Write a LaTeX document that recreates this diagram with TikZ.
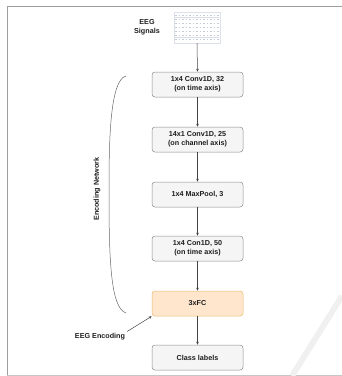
\documentclass[tikz,border=0pt]{standalone}
\usepackage{fontspec}
\setmainfont{Liberation Sans}
\usetikzlibrary{arrows.meta}
\definecolor{boxfill}{HTML}{F5F5F5}
\definecolor{boxline}{HTML}{8C8C8C}
\definecolor{fcfill}{HTML}{FFE6CC}
\definecolor{fcline}{HTML}{E8BC6E}
\definecolor{txt}{HTML}{1E1E1E}
\definecolor{conn}{HTML}{444444}
\definecolor{sig}{HTML}{C4CCDA}
\begin{document}
\begin{tikzpicture}[x=1pt,y=-1pt,
  layer/.style={draw=boxline, fill=boxfill, rounded corners=3pt, minimum width=91pt,
    minimum height=25pt, align=center, inner sep=1pt, line width=0.5pt,
    text=txt, font=\fontsize{7.2}{8.6}\selectfont\bfseries},
  fclayer/.style={layer, draw=fcline, fill=fcfill},
  lbl/.style={align=center, text=txt, font=\fontsize{7.2}{8.6}\selectfont\bfseries, inner sep=2pt},
  arr/.style={draw=conn, line width=0.5pt, -{Stealth[length=3pt,width=2.6pt]}},
  frame/.style={line width=0.8pt}]
\useasboundingbox (0,0) rectangle (342,376);
% page frame and watermark
\draw[frame, draw=gray!75] (7,375) -- (7,6) -- (342,6);
\draw[frame, draw=gray!45] (7,375) -- (342,375);
\draw[line width=6pt, draw=gray!12] (292,376) -- (342,296);
% EEG signal picture
\node[draw=sig!60, line width=0.3pt, minimum width=46pt, minimum height=31pt, inner sep=0pt] (eeg) at (197,27.5) {};
\foreach \yy in {15,19,23,27,31,35,39}{
  \draw[sig, line width=0.3pt, dash pattern=on 1.5pt off 2pt] (175,\yy) -- (219,\yy);
}
\draw[sig!70, line width=0.3pt] (175,17) -- (219,17) (175,37) -- (219,37);
\node[lbl] (siglbl) at (147,27.5) {EEG\\Signals};
% layers
\node[layer] (b1) at (197.5,84.5) {1x4 Conv1D, 32\\(on time axis)};
\node[layer] (b2) at (197.5,139.5) {14x1 Conv1D, 25\\(on channel axis)};
\node[layer] (b3) at (197.5,194.5) {1x4 MaxPool, 3};
\node[layer] (b4) at (197.5,248.5) {1x4 Con1D, 50\\(on time axis)};
\node[fclayer] (b5) at (197.5,303.5) {3xFC};
\node[layer] (b6) at (197.5,357.5) {Class labels};
\draw[arr] (eeg.south) -- (b1.north);
\draw[arr] (b1) -- (b2);
\draw[arr] (b2) -- (b3);
\draw[arr] (b3) -- (b4);
\draw[arr] (b4) -- (b5);
\draw[arr] (b5) -- (b6);
% bracket
\coordinate (brtop) at (126,76);
\coordinate (brbot) at (126,313);
\draw[draw=gray!80!black, line width=0.5pt] (brtop) .. controls (110,80) and (109,140) .. (109,190)
  .. controls (109,255) and (110,308) .. (brbot);
\node[lbl, rotate=90] (netlbl) at (97,189) {Encoding Network};
% encoding label
\node[lbl] (enclbl) at (100,337) {EEG Encoding};
\draw[arr] (enclbl.north east) -- (b5.south west);
\end{tikzpicture}
\end{document}
